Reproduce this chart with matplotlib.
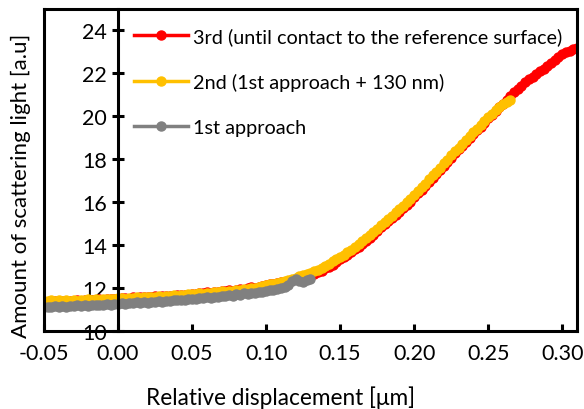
import numpy as np
import matplotlib
matplotlib.use("Agg")
import matplotlib.pyplot as plt

plt.rcParams['font.family'] = ['Lato', 'DejaVu Sans']

# sampling positions [um]
step = 0.0025
x3 = np.round(-0.05 + step * np.arange(145), 4)   # up to 0.31
x2 = np.round(-0.05 + step * np.arange(127), 4)   # up to 0.265
x1 = np.round(-0.05 + step * np.arange(73), 4)    # up to 0.13

# 3rd (until contact to the reference surface)
y3 = [11.33, 11.36, 11.34, 11.38, 11.35, 11.39, 11.37, 11.40, 11.38, 11.42, 11.40,
      11.44, 11.41, 11.45, 11.43, 11.47, 11.44, 11.48, 11.46, 11.50, 11.48,
      11.51, 11.53, 11.50, 11.55, 11.53, 11.57, 11.55, 11.58, 11.56, 11.60,
      11.59, 11.62, 11.60, 11.64, 11.62, 11.66, 11.65, 11.68, 11.67, 11.72,
      11.73, 11.76, 11.74, 11.79, 11.78, 11.82, 11.80, 11.85, 11.84, 11.89,
      11.87, 11.92, 11.94, 11.92, 11.98, 12.02, 11.99, 12.06, 12.08, 12.14,
      12.17, 12.20, 12.22, 12.26, 12.28, 12.33, 12.36, 12.41, 12.44, 12.50,
      12.55, 12.60, 12.66, 12.74, 12.80, 12.90, 12.98, 13.08, 13.20, 13.32,
      13.45, 13.55, 13.68, 13.80, 13.92, 14.06, 14.18, 14.32, 14.48, 14.66,
      14.82, 14.98, 15.12, 15.25, 15.40, 15.55, 15.70, 15.86, 16.02, 16.22,
      16.42, 16.58, 16.75, 16.95, 17.12, 17.32, 17.48, 17.68, 17.88, 18.06,
      18.28, 18.45, 18.62, 18.80, 18.98, 19.15, 19.35, 19.52, 19.70, 19.90,
      20.08, 20.25, 20.42, 20.58, 20.78, 20.95, 21.12, 21.26, 21.42, 21.58,
      21.72, 21.85, 21.98, 22.10, 22.22, 22.36, 22.48, 22.60, 22.74, 22.88,
      22.98, 23.06, 23.12, 23.18]

# 2nd (1st approach + 130 nm)
y2 = [11.40, 11.37, 11.42, 11.39, 11.44, 11.40, 11.43, 11.38, 11.42, 11.40, 11.45,
      11.42, 11.46, 11.43, 11.47, 11.44, 11.49, 11.46, 11.50, 11.47, 11.51,
      11.53, 11.50, 11.54, 11.52, 11.56, 11.54, 11.58, 11.55, 11.59, 11.57,
      11.61, 11.59, 11.63, 11.61, 11.65, 11.64, 11.67, 11.66, 11.70, 11.69,
      11.72, 11.74, 11.73, 11.77, 11.76, 11.80, 11.79, 11.83, 11.82, 11.86,
      11.86, 11.90, 11.91, 11.94, 11.96, 11.99, 12.01, 12.04, 12.07, 12.11,
      12.16, 12.19, 12.23, 12.27, 12.31, 12.36, 12.42, 12.47, 12.53, 12.58,
      12.64, 12.70, 12.77, 12.85, 12.93, 13.02, 13.12, 13.24, 13.34, 13.44,
      13.54, 13.65, 13.76, 13.90, 14.02, 14.16, 14.30, 14.44, 14.60, 14.76,
      14.92, 15.08, 15.22, 15.36, 15.52, 15.66, 15.82, 15.98, 16.14, 16.32,
      16.52, 16.68, 16.86, 17.05, 17.24, 17.42, 17.60, 17.80, 17.98, 18.18,
      18.36, 18.54, 18.72, 18.90, 19.06, 19.25, 19.42, 19.60, 19.78, 19.95,
      20.12, 20.28, 20.42, 20.55, 20.66, 20.75]

# 1st approach
y1 = [11.10, 11.12, 11.09, 11.13, 11.11, 11.15, 11.12, 11.16, 11.14, 11.18, 11.15,
      11.19, 11.17, 11.21, 11.18, 11.22, 11.20, 11.24, 11.21, 11.25, 11.23,
      11.27, 11.25, 11.30, 11.28, 11.32, 11.29, 11.34, 11.31, 11.36, 11.33,
      11.38, 11.36, 11.40, 11.38, 11.42, 11.41, 11.44, 11.43, 11.47, 11.48,
      11.50, 11.53, 11.51, 11.56, 11.54, 11.59, 11.57, 11.62, 11.60, 11.66,
      11.64, 11.70, 11.68, 11.74, 11.72, 11.78, 11.76, 11.82, 11.80, 11.86,
      11.88, 11.92, 11.95, 11.98, 12.02, 12.14, 12.30, 12.40, 12.30, 12.28,
      12.36, 12.42]

labels = ['3rd (until contact to the reference surface)',
          '2nd (1st approach + 130 nm)',
          '1st approach']
colors = ['#FF0000', '#FFC000', '#808080']

xticks = [-0.05, 0.00, 0.05, 0.10, 0.15, 0.20, 0.25, 0.30]
yticks = [10, 12, 14, 16, 18, 20, 22, 24]

fig = plt.figure(figsize=(5.84, 4.10), dpi=100)
ax = fig.add_axes([0.0753, 0.191, 0.9127, 0.7846])

for xs, ys, c, lab in zip([x3, x2, x1], [y3, y2, y1], colors, labels):
    ax.plot(xs, ys, color=c, lw=2.5, marker='o', ms=6.5, mec=c, mfc=c, label=lab)

ax.set_xlim(-0.05, 0.31)
ax.set_ylim(10, 25)
ax.set_xticks(xticks)
ax.set_xticklabels(['%.2f' % v for v in xticks])
ax.set_yticks(yticks)

# y axis crosses at x = 0, outer frame kept
ax.spines['left'].set_position(('data', 0))
for s in ax.spines.values():
    s.set_linewidth(2.2)
ax.plot([0, 0], [0, 1], transform=ax.transAxes, color='black', lw=2.2,
        clip_on=False, solid_capstyle='projecting')

ax.tick_params(axis='x', direction='in', length=5, width=2.2, pad=9, labelsize=15.5)
ax.tick_params(axis='y', direction='inout', length=8, width=2.2, pad=4, labelsize=15.5)

ax.set_xlabel('Relative displacement [μm]', fontsize=16.3)
ax.xaxis.set_label_coords(0.443, -0.17)
ax.set_ylabel('Amount of scattering light [a.u]', fontsize=16)
ax.yaxis.set_label_coords(-0.024, 0.453)

ax.legend(loc='upper left', bbox_to_anchor=(134 / 584, 1 - 28 / 410),
          bbox_transform=fig.transFigure, frameon=False, fontsize=14.3,
          handlelength=2.7, handletextpad=0.25, labelspacing=1.42,
          borderpad=0, borderaxespad=0)

fig.savefig('out.png', dpi=100)
